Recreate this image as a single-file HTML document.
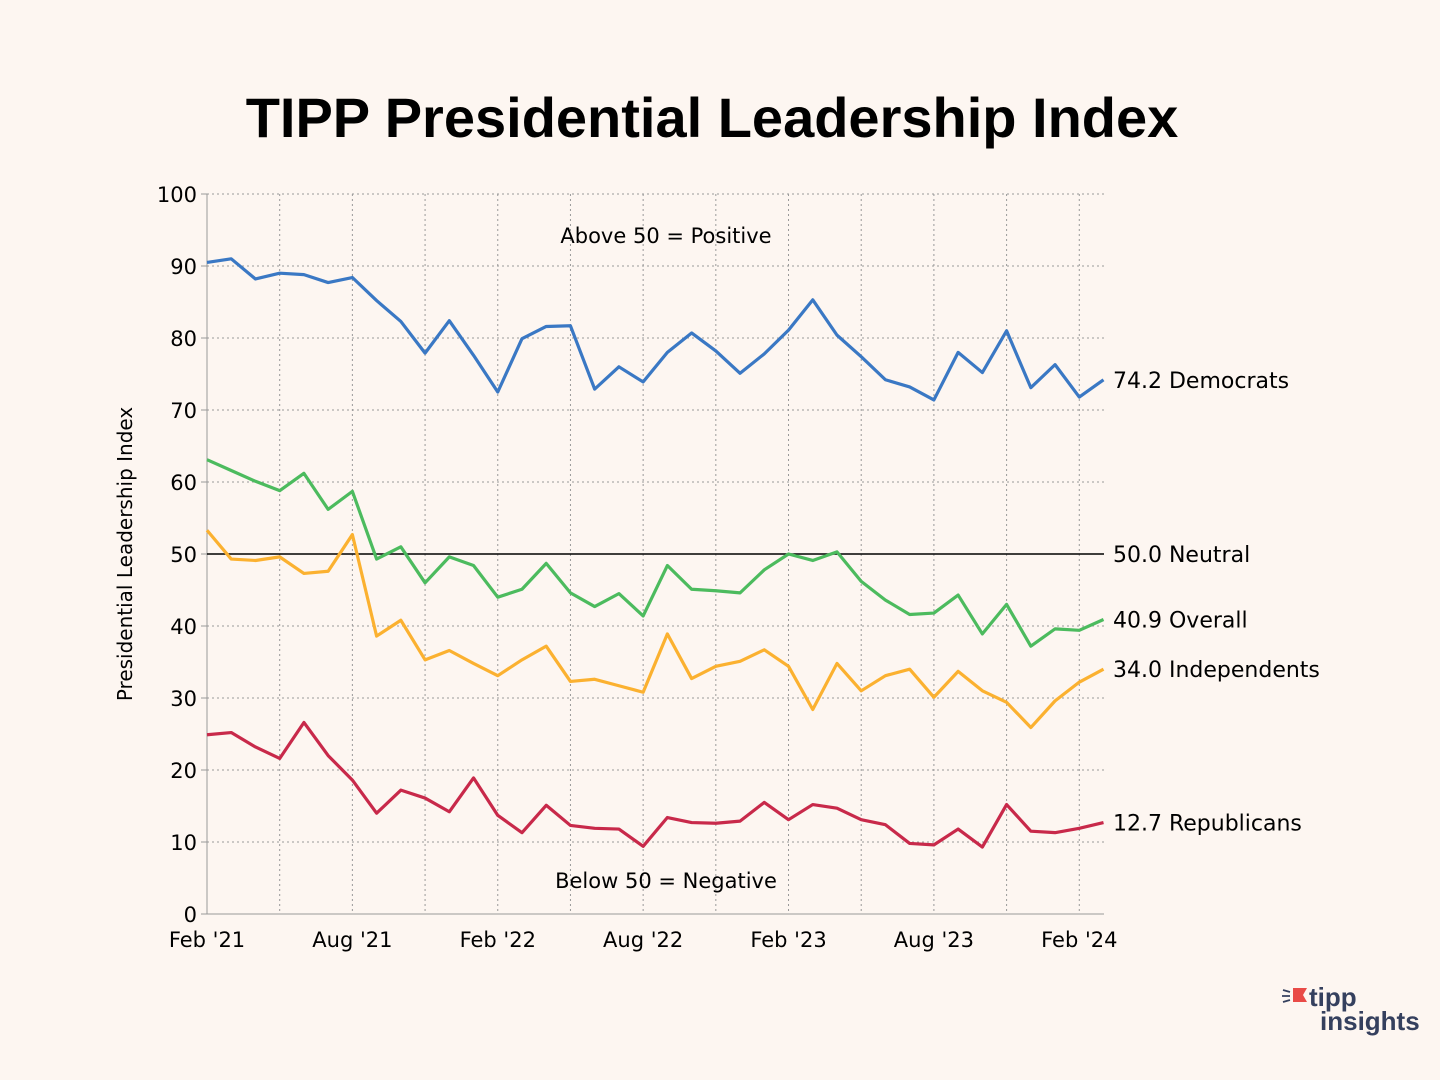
<!DOCTYPE html>
<html><head><meta charset="utf-8"><style>
body{margin:0;background:#fdf6f1;}
svg{display:block;font-family:"DejaVu Sans","Liberation Sans",sans-serif;}
</style></head><body>
<svg id="chart" width="1440" height="1080">
<rect width="1440" height="1080" fill="#fdf6f1"/>
<text x="712" y="137" text-anchor="middle" font-size="56" font-weight="bold" fill="#000" style="font-family:'Liberation Sans',sans-serif">TIPP Presidential Leadership Index</text>
<g id="grid"></g>
<g id="axes"></g>
<g id="series"></g>
<g id="labels"></g>
<text x="666" y="243" text-anchor="middle" font-size="21" fill="#000">Above 50 = Positive</text>
<text x="666" y="888" text-anchor="middle" font-size="21" fill="#000">Below 50 = Negative</text>
<text transform="translate(132,554) rotate(-90)" text-anchor="middle" font-size="20" fill="#000">Presidential Leadership Index</text>
<g>
<path d="M1293,988 h14 l-4,7 l4,7 h-14z" fill="#e94b47"/>
<path d="M1283,990 l7,2 M1282,996 h8 M1283,1002 l7,-2" stroke="#35405e" stroke-width="1.8"/>
<text x="1309" y="1006" font-size="26" font-weight="bold" fill="#35405e" style="font-family:'Liberation Sans',sans-serif">tipp</text>
<text x="1320" y="1030" font-size="26" font-weight="bold" fill="#35405e" style="font-family:'Liberation Sans',sans-serif">insights</text>
</g>
</svg>
<script>
const dem=[90.5,91,88.2,89,88.8,87.7,88.4,85.2,82.3,77.9,82.4,77.6,72.5,79.9,81.6,81.7,72.9,76,73.9,78,80.7,78.2,75.1,77.8,81.1,85.3,80.4,77.4,74.2,73.2,71.4,78,75.2,81,73.1,76.3,71.8,74.2];
const overall=[63.1,61.6,60.1,58.8,61.2,56.2,58.7,49.3,51,46,49.6,48.4,44,45.1,48.7,44.6,42.7,44.5,41.4,48.4,45.1,44.9,44.6,47.8,50,49.1,50.3,46.2,43.6,41.6,41.8,44.3,38.9,43,37.2,39.6,39.4,40.9];
const ind=[53.3,49.3,49.1,49.6,47.3,47.6,52.7,38.6,40.8,35.3,36.6,34.8,33.1,35.3,37.2,32.3,32.6,31.7,30.8,38.9,32.7,34.4,35.1,36.7,34.4,28.4,34.8,31,33.1,34,30.1,33.7,31,29.4,25.9,29.6,32.2,34.0];
const rep=[24.9,25.2,23.2,21.6,26.6,22,18.6,14,17.2,16.1,14.2,18.9,13.7,11.3,15.1,12.3,11.9,11.8,9.4,13.4,12.7,12.6,12.9,15.5,13.1,15.2,14.7,13.1,12.4,9.8,9.6,11.8,9.3,15.2,11.5,11.3,11.9,12.7];
const yTicks=[0,10,20,30,40,50,60,70,80,90,100];
const xTickLabels=["Feb '21","Aug '21","Feb '22","Aug '22","Feb '23","Aug '23","Feb '24"];
const endLabels=["74.2 Democrats","40.9 Overall","34.0 Independents","12.7 Republicans"];
const NS="http://www.w3.org/2000/svg";
const x=i=>207+i*24.23, y=v=>914-v*7.2;
function mk(tag,attrs,parent,text){const e=document.createElementNS(NS,tag);for(const k in attrs)e.setAttribute(k,attrs[k]);if(text!=null)e.textContent=text;document.getElementById(parent).appendChild(e);return e;}
for(const t of yTicks){if(t>0){const g=mk('line',{x1:207,x2:1104,y1:y(t),y2:y(t),stroke:'#999','stroke-dasharray':'2,3','stroke-width':1},'grid');}
const l=mk('text',{x:197,y:y(t)+8,'text-anchor':'end','font-size':21},'axes',t);
mk('line',{x1:201,x2:207,y1:y(t),y2:y(t),stroke:'#999'},'axes');}
for(let i=3;i<dem.length;i+=3){const g=mk('line',{x1:x(i),x2:x(i),y1:194,y2:914,stroke:'#999','stroke-dasharray':'2,3'},'grid');}
mk('line',{x1:207,x2:207,y1:194,y2:914,stroke:'#999'},'axes');
mk('line',{x1:207,x2:1104,y1:914,y2:914,stroke:'#999'},'axes');
xTickLabels.forEach((s,k)=>{const l=mk('text',{x:x(k*6),y:947,'text-anchor':'middle','font-size':21},'axes',s);});
const nl=mk('line',{x1:207,x2:1104,y1:y(50),y2:y(50),stroke:'#000','stroke-width':1.5},'series');

const nt=mk('text',{x:1113,y:y(50)+8,'font-size':22},'labels','50.0 Neutral');
const ser=[[dem,'#3a78c4','democrats-line'],[overall,'#4cbb5e','overall-line'],[ind,'#fbb130','independents-line'],[rep,'#c8294a','republicans-line']];
ser.forEach(([d,c,n],k)=>{const p=mk('polyline',{points:d.map((v,i)=>x(i)+','+y(v)).join(' '),fill:'none',stroke:c,'stroke-width':3.2,'stroke-linejoin':'round'},'series');

const last=d[d.length-1];const t=mk('text',{x:1113,y:y(last)+8,'font-size':22},'labels',endLabels[k]);
});
</script>
</body></html>
